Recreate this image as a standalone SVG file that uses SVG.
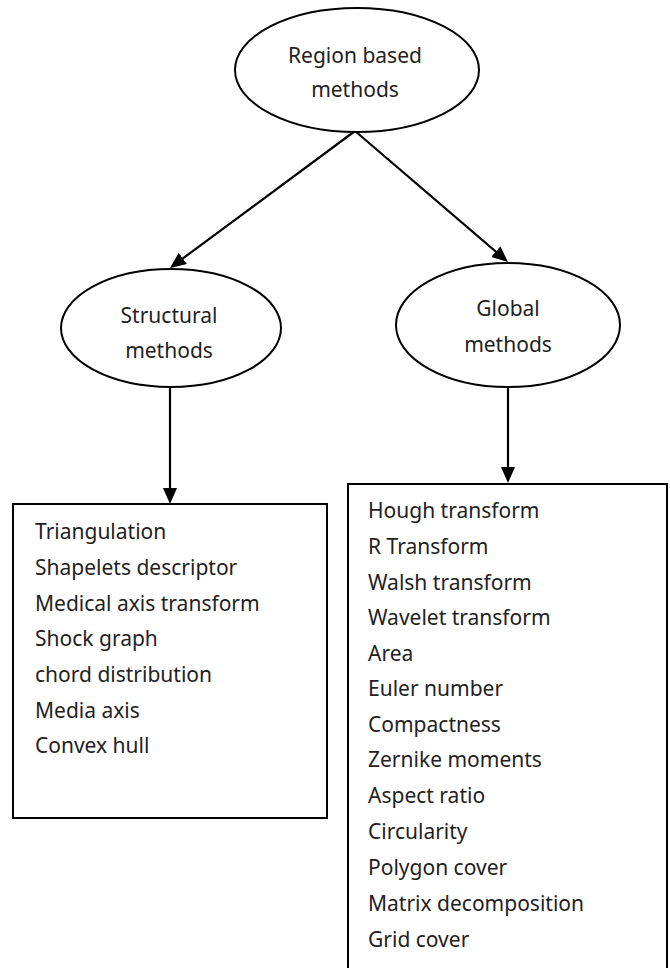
<svg xmlns="http://www.w3.org/2000/svg" width="670" height="968" viewBox="0 0 670 968">
  <style>
    .shape { fill: #ffffff; stroke: #000000; stroke-width: 2; }
    .label { font-family: "Noto Sans", "Liberation Sans", sans-serif; font-size: 21px; fill: #222222; }
    .mid { text-anchor: middle; }
    .edge { fill: none; stroke: #000000; stroke-width: 2.2; marker-end: url(#arrow); }
  </style>
  <defs>
    <marker id="arrow" viewBox="0 0 16 14" refX="8" refY="7" markerWidth="16" markerHeight="14" markerUnits="userSpaceOnUse" orient="auto">
      <path d="M0,0 L16,7 L0,14 z" fill="#000000"/>
    </marker>
  </defs>

  <rect width="670" height="968" fill="#ffffff"/>

  <!-- connectors -->
  <g id="connectors">
    <line class="edge" x1="355" y1="131" x2="176.4" y2="263.2"/>
    <line class="edge" x1="355" y1="131" x2="501.9" y2="256.8"/>
    <line class="edge" x1="170" y1="388" x2="170" y2="496"/>
    <line class="edge" x1="508" y1="388" x2="508" y2="475"/>
  </g>

  <!-- root -->
  <g id="region-based">
    <ellipse class="shape" cx="357" cy="70" rx="122" ry="62"/>
    <text class="label mid" x="355" y="63">Region based</text>
    <text class="label mid" x="355" y="97">methods</text>
  </g>

  <g id="structural">
    <ellipse class="shape" cx="171" cy="328" rx="110" ry="59"/>
    <text class="label mid" x="169" y="323">Structural</text>
    <text class="label mid" x="169" y="358">methods</text>
  </g>

  <g id="global">
    <ellipse class="shape" cx="508" cy="325" rx="112" ry="62"/>
    <text class="label mid" x="508" y="316">Global</text>
    <text class="label mid" x="508" y="352">methods</text>
  </g>

  <!-- structural method list -->
  <g id="structural-list">
    <rect class="shape" x="13" y="504" width="314" height="314"/>
    <text class="label" x="35" y="539">Triangulation</text>
    <text class="label" x="35" y="575">Shapelets descriptor</text>
    <text class="label" x="35" y="611">Medical axis transform</text>
    <text class="label" x="35" y="646">Shock graph</text>
    <text class="label" x="35" y="682">chord distribution</text>
    <text class="label" x="35" y="718">Media axis</text>
    <text class="label" x="35" y="753">Convex hull</text>
  </g>

  <!-- global method list -->
  <g id="global-list">
    <rect class="shape" x="348" y="484" width="319" height="500"/>
    <text class="label" x="368" y="518">Hough transform</text>
    <text class="label" x="368" y="554">R Transform</text>
    <text class="label" x="368" y="590">Walsh transform</text>
    <text class="label" x="368" y="625">Wavelet transform</text>
    <text class="label" x="368" y="661">Area</text>
    <text class="label" x="368" y="696">Euler number</text>
    <text class="label" x="368" y="732">Compactness</text>
    <text class="label" x="368" y="767">Zernike moments</text>
    <text class="label" x="368" y="803">Aspect ratio</text>
    <text class="label" x="368" y="839">Circularity</text>
    <text class="label" x="368" y="875">Polygon cover</text>
    <text class="label" x="368" y="911">Matrix decomposition</text>
    <text class="label" x="368" y="947">Grid cover</text>
  </g>
</svg>
